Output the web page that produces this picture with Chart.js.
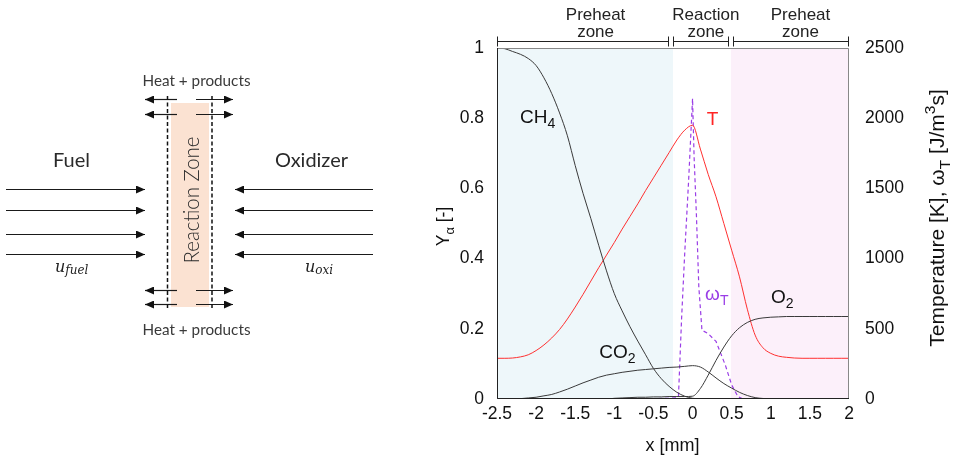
<!DOCTYPE html>
<html>
<head>
<meta charset="utf-8">
<script src="https://cdn.jsdelivr.net/npm/chart.js@4.4.0/dist/chart.umd.min.js"></script>
<style>
  body { margin: 0; background: #fff; }
  #wrap { position: relative; width: 953px; height: 460px; }
  #chart, #diagram { position: absolute; left: 0; top: 0; }
  #diagram text { font-family: Lato, 'Open Sans', sans-serif; }
</style>
</head>
<body>
<div id="wrap">
  <canvas id="chart" width="953" height="460"></canvas>
  <svg id="diagram" width="420" height="460" viewBox="0 0 420 460">
    <defs>
      <marker id="ah" markerUnits="userSpaceOnUse" markerWidth="9" markerHeight="8"
              viewBox="0 0 9 8" refX="9" refY="4" orient="auto">
        <path d="M0,0 L9,4 L0,8 z" fill="#111"/>
      </marker>
    </defs>
    <!-- reaction zone band -->
    <rect x="171" y="103" width="38" height="204" fill="#fbe2d2"/>
    <g stroke="#1a1a1a" stroke-width="1.2" marker-end="url(#ah)">
      <!-- fuel stream -->
      <line x1="6" y1="189.5" x2="145" y2="189.5"/>
      <line x1="6" y1="210.5" x2="145" y2="210.5"/>
      <line x1="6" y1="234.5" x2="145" y2="234.5"/>
      <line x1="6" y1="254.5" x2="145" y2="254.5"/>
      <!-- oxidizer stream -->
      <line x1="373" y1="189.5" x2="235" y2="189.5"/>
      <line x1="373" y1="210.5" x2="235" y2="210.5"/>
      <line x1="373" y1="234.5" x2="235" y2="234.5"/>
      <line x1="373" y1="254.5" x2="235" y2="254.5"/>
      <!-- heat + products, top -->
      <line x1="177" y1="99.5" x2="145" y2="99.5"/>
      <line x1="177" y1="114.5" x2="145" y2="114.5"/>
      <line x1="196" y1="99.5" x2="233" y2="99.5"/>
      <line x1="196" y1="114.5" x2="233" y2="114.5"/>
      <!-- heat + products, bottom -->
      <line x1="177" y1="290.5" x2="145" y2="290.5"/>
      <line x1="177" y1="304.5" x2="145" y2="304.5"/>
      <line x1="196" y1="290.5" x2="233" y2="290.5"/>
      <line x1="196" y1="304.5" x2="233" y2="304.5"/>
    </g>
    <g stroke="#111" stroke-width="1.5" stroke-dasharray="4 2.5">
      <line x1="167.5" y1="96" x2="167.5" y2="310"/>
      <line x1="212" y1="96" x2="212" y2="310"/>
    </g>
    <text x="196.5" y="86" font-size="15" fill="#3a3a3a" text-anchor="middle"
          textLength="108" lengthAdjust="spacingAndGlyphs">Heat + products</text>
    <text x="196.5" y="335" font-size="15" fill="#3a3a3a" text-anchor="middle"
          textLength="108" lengthAdjust="spacingAndGlyphs">Heat + products</text>
    <text x="71.5" y="167" font-size="20" fill="#2a2a2a" text-anchor="middle"
          textLength="37" lengthAdjust="spacingAndGlyphs">Fuel</text>
    <text x="311.5" y="167" font-size="20" fill="#2a2a2a" text-anchor="middle"
          textLength="73" lengthAdjust="spacingAndGlyphs">Oxidizer</text>
    <text transform="translate(199,200) rotate(-90)" x="0" y="0" font-size="21" font-weight="300"
          fill="#2a2a2a" text-anchor="middle" textLength="127" lengthAdjust="spacingAndGlyphs">Reaction Zone</text>
    <text x="55" y="272" font-size="16" font-style="italic" fill="#222"
          style="font-family:'DejaVu Serif',serif">u<tspan font-size="12" dy="2">fuel</tspan></text>
    <text x="305" y="272" font-size="16" font-style="italic" fill="#222"
          style="font-family:'DejaVu Serif',serif">u<tspan font-size="12" dy="2">oxi</tspan></text>
  </svg>
</div>
<script>
// x positions [mm] of the sampled profiles
const xGrid = [-2.5, -2.4, -2.3, -2.2, -2.1, -2.0, -1.9, -1.8, -1.7, -1.6, -1.5, -1.4, -1.3,
  -1.2, -1.1, -1.0, -0.9, -0.8, -0.7, -0.6, -0.5, -0.4, -0.3, -0.2, -0.1,
  0.0, 0.1, 0.2, 0.3, 0.4, 0.5, 0.6, 0.7, 0.8, 0.9, 1.0, 1.1, 1.2, 1.3, 1.4, 1.5,
  1.6, 1.7, 1.8, 1.9, 2.0];

// mass fractions [-]
const ch4 = [1.000, 0.998, 0.990, 0.982, 0.970, 0.950, 0.915, 0.870, 0.815, 0.750, 0.665,
  0.586, 0.514, 0.438, 0.365, 0.300, 0.251, 0.206, 0.165, 0.126, 0.087, 0.058, 0.036,
  0.019, 0.008,
  0.002, 0.0005, 0, 0, 0, 0, 0, 0, 0, 0, 0, 0, 0, 0, 0, 0, 0, 0, 0, 0, 0];
const co2 = [0, 0, 0.0005, 0.001, 0.003, 0.005, 0.009, 0.013, 0.020, 0.028, 0.037, 0.046,
  0.054, 0.062, 0.068, 0.072, 0.076, 0.079, 0.082, 0.084, 0.086, 0.088, 0.090, 0.091, 0.093,
  0.095, 0.091, 0.077, 0.060, 0.044, 0.031, 0.019, 0.010, 0.004, 0.0015, 0.0005,
  0, 0, 0, 0, 0, 0, 0, 0, 0, 0];
const o2 = [0, 0, 0, 0, 0, 0, 0, 0, 0, 0, 0, 0, 0, 0, 0,
  0.002, 0.003, 0.004, 0.005, 0.005, 0.006, 0.006, 0.007, 0.007, 0.007,
  0.008, 0.030, 0.068, 0.110, 0.148, 0.180, 0.203, 0.218, 0.227, 0.231, 0.233, 0.234,
  0.235, 0.235, 0.235, 0.235, 0.235, 0.235, 0.235, 0.235, 0.235];

// temperature [K]
const temperature = [290, 290, 292, 300, 315, 345, 385, 435, 495, 570, 655, 745, 840, 935,
  1025, 1115, 1210, 1300, 1390, 1485, 1575, 1665, 1755, 1845, 1915,
  1950, 1780, 1600, 1440, 1250, 1060, 870, 640, 455, 365, 325, 305, 297, 292,
  290, 290, 290, 290, 290, 290, 290];

// heat release rate omega_T [J/m3s]
const omegaX = [-2.5, -0.6, -0.45, -0.3, -0.2, -0.18, -0.14, -0.1, -0.05, 0.0, 0.02, 0.05,
  0.08, 0.12, 0.2, 0.3, 0.42, 0.5, 0.58, 0.65, 2.0];
const omegaY = [0, 0, 3, 5, 8, 20, 575, 1040, 1560, 2140, 1720, 1300,
  800, 490, 465, 410, 240, 100, 16, 0, 0];

// axes
const xTicks = [-2.5, -2, -1.5, -1, -0.5, 0, 0.5, 1, 1.5, 2];
const xTickLabels = ['-2.5', '-2', '-1.5', '-1', '-0.5', '0', '0.5', '1', '1.5', '2'];
const yTicks = [0, 0.2, 0.4, 0.6, 0.8, 1];
const yTickLabels = ['0', '0.2', '0.4', '0.6', '0.8', '1'];
const tTicks = [0, 500, 1000, 1500, 2000, 2500];
const tTickLabels = ['0', '500', '1000', '1500', '2000', '2500'];

// zones
const zoneBounds = [[-2.5, -0.25], [0.49, 2.0]];
const zoneColors = ['#eef7fa', '#fcf0fa'];
const bracketRanges = [[-2.5, -0.3], [-0.245, 0.47], [0.52, 2.0]];
const bracketTexts = [['Preheat', 'zone'], ['Reaction', 'zone'], ['Preheat', 'zone']];
const bracketTextX = [-1.24, 0.17, 1.38];

const FONT = "'Liberation Sans', Arial, Helvetica, sans-serif";
const PURPLE = '#9a3ee6';

// curve labels, anchored in (x, Y) data units, left-aligned on baseline
const curveLabels = [
  { parts: [['CH', ''], ['4', 'sub']], x: -2.206, y: 0.786, color: '#111' },
  { parts: [['T', '']], x: 0.18, y: 0.781, color: '#ff2424' },
  { parts: [['\u03C9', ''], ['T', 'sub']], x: 0.16, y: 0.282, color: PURPLE },
  { parts: [['O', ''], ['2', 'sub']], x: 1.004, y: 0.273, color: '#111' },
  { parts: [['CO', ''], ['2', 'sub']], x: -1.192, y: 0.116, color: '#111' }
];

const pts = (xs, ys) => xs.map((x, i) => ({ x, y: ys[i] }));

function drawRich(ctx, parts, x, y, size, align) {
  const items = parts.map(([t, k]) => {
    const s = k ? size * 0.74 : size;
    ctx.font = s + 'px ' + FONT;
    return { t, k, s, w: ctx.measureText(t).width };
  });
  const total = items.reduce((a, p) => a + p.w, 0);
  let cx = align === 'center' ? x - total / 2 : x;
  ctx.textAlign = 'left';
  ctx.textBaseline = 'alphabetic';
  items.forEach(p => {
    ctx.font = p.s + 'px ' + FONT;
    const dy = p.k === 'sub' ? size * 0.27 : p.k === 'sup' ? -size * 0.42 : 0;
    ctx.fillText(p.t, cx, y + dy);
    cx += p.w;
  });
}

const decor = {
  id: 'decor',
  beforeDatasetsDraw(chart) {
    const { ctx, chartArea: a, scales: { x } } = chart;
    ctx.save();
    zoneBounds.forEach(([from, to], i) => {
      const l = x.getPixelForValue(from), r = x.getPixelForValue(to);
      ctx.fillStyle = zoneColors[i];
      ctx.fillRect(l, a.top, r - l, a.bottom - a.top);
    });
    ctx.restore();
  },
  afterDatasetsDraw(chart) {
    const { ctx, chartArea: a, scales: { x, y } } = chart;
    ctx.save();

    // frame
    ctx.lineWidth = 1;
    ctx.strokeStyle = '#888';
    ctx.beginPath();
    ctx.moveTo(a.left, a.top + 0.5); ctx.lineTo(a.right - 0.5, a.top + 0.5);
    ctx.lineTo(a.right - 0.5, a.bottom);
    ctx.stroke();
    ctx.strokeStyle = '#222';
    ctx.beginPath();
    ctx.moveTo(a.left + 0.5, a.top); ctx.lineTo(a.left + 0.5, a.bottom - 0.5);
    ctx.lineTo(a.right, a.bottom - 0.5);
    ctx.stroke();

    // zone brackets
    ctx.strokeStyle = '#222';
    const by = 41.5;
    bracketRanges.forEach(([from, to]) => {
      const l = Math.round(x.getPixelForValue(from)) + 0.5;
      const r = Math.round(x.getPixelForValue(to)) - 0.5;
      ctx.beginPath();
      ctx.moveTo(l, by); ctx.lineTo(r, by);
      ctx.moveTo(l, by - 5); ctx.lineTo(l, by + 5);
      ctx.moveTo(r, by - 5); ctx.lineTo(r, by + 5);
      ctx.stroke();
    });
    ctx.fillStyle = '#222';
    bracketTexts.forEach(([l1, l2], i) => {
      const cx = x.getPixelForValue(bracketTextX[i]);
      drawRich(ctx, [[l1, '']], cx, 20, 17, 'center');
      drawRich(ctx, [[l2, '']], cx, 37, 17, 'center');
    });

    // curve labels
    curveLabels.forEach(lb => {
      ctx.fillStyle = lb.color;
      drawRich(ctx, lb.parts, x.getPixelForValue(lb.x), y.getPixelForValue(lb.y), 19, 'left');
    });

    // axis titles
    ctx.fillStyle = '#111';
    drawRich(ctx, [['x [mm]', '']], (a.left + a.right) / 2 - 0.5, 451, 18, 'center');

    ctx.save();
    ctx.translate(449, (a.top + a.bottom) / 2 + 3);
    ctx.rotate(-Math.PI / 2);
    drawRich(ctx, [['Y', ''], ['\u03B1', 'sub'], [' [-]', '']], 0, 0, 17.5, 'center');
    ctx.restore();

    ctx.save();
    ctx.translate(944, 218);
    ctx.rotate(-Math.PI / 2);
    drawRich(ctx, [['Temperature [K], \u03C9', ''], ['T', 'sub'], [' [J/m', ''], ['3', 'sup'], ['s]', '']],
      0, 0, 21, 'center');
    ctx.restore();

    ctx.restore();
  }
};

function fixedTicks(values) {
  return scale => { scale.ticks = values.map(v => ({ value: v })); };
}

new Chart(document.getElementById('chart'), {
  type: 'line',
  data: {
    datasets: [
      { label: 'CH4', data: pts(xGrid, ch4), yAxisID: 'y', borderColor: '#3a3a3a',
        borderWidth: 1, pointRadius: 0, cubicInterpolationMode: 'monotone' },
      { label: 'CO2', data: pts(xGrid, co2), yAxisID: 'y', borderColor: '#3a3a3a',
        borderWidth: 1, pointRadius: 0, cubicInterpolationMode: 'monotone' },
      { label: 'O2', data: pts(xGrid, o2), yAxisID: 'y', borderColor: '#3a3a3a',
        borderWidth: 1, pointRadius: 0, cubicInterpolationMode: 'monotone' },
      { label: 'T', data: pts(xGrid, temperature), yAxisID: 'y1', borderColor: '#ff3030',
        borderWidth: 1, pointRadius: 0, cubicInterpolationMode: 'monotone' },
      { label: 'omegaT', data: pts(omegaX, omegaY), yAxisID: 'y1', borderColor: PURPLE,
        borderWidth: 1.2, borderDash: [4, 3], pointRadius: 0, tension: 0 }
    ]
  },
  options: {
    responsive: false,
    animation: false,
    layout: { padding: { top: 48, left: 0, right: 0, bottom: 0 } },
    plugins: { legend: { display: false }, tooltip: { enabled: false } },
    scales: {
      x: {
        type: 'linear', min: -2.5, max: 2,
        afterBuildTicks: fixedTicks(xTicks),
        afterFit: s => { s.height = 61; },
        grid: { display: false, drawTicks: false },
        border: { display: false },
        ticks: { padding: 5, color: '#111', font: { family: FONT, size: 17.5 },
          maxRotation: 0, autoSkip: false, callback: (v, i) => xTickLabels[i] }
      },
      y: {
        type: 'linear', position: 'left', min: 0, max: 1,
        afterBuildTicks: fixedTicks(yTicks),
        afterFit: s => { s.width = 497; },
        grid: { display: false, drawTicks: false },
        border: { display: false },
        ticks: { padding: 13, color: '#111', font: { family: FONT, size: 17.5 },
          autoSkip: false, callback: (v, i) => yTickLabels[i] }
      },
      y1: {
        type: 'linear', position: 'right', min: 0, max: 2500,
        afterBuildTicks: fixedTicks(tTicks),
        afterFit: s => { s.width = 104; },
        grid: { display: false, drawTicks: false },
        border: { display: false },
        ticks: { padding: 16, color: '#111', font: { family: FONT, size: 17.5 },
          autoSkip: false, callback: (v, i) => tTickLabels[i] }
      }
    }
  },
  plugins: [decor]
});
</script>
</body>
</html>
